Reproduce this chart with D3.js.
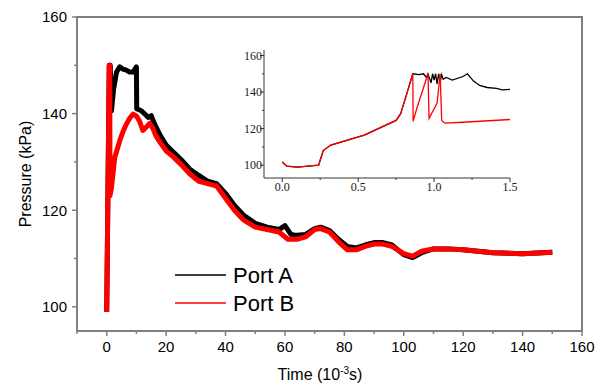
<!DOCTYPE html>
<html>
<head>
<meta charset="utf-8">
<script src="https://cdn.jsdelivr.net/npm/d3@7"></script>
<style>
  body { margin: 0; background: #fff; }
  svg { display: block; }
</style>
</head>
<body>
<div id="chart"></div>
<script>
// main chart data (time in 10^-3 s, pressure in kPa)
var timeA = [0, 0.86, 1.2, 1.6, 2.3, 3.3, 4.4, 5.5, 6.6, 7.7, 8.9, 10, 10.1, 11, 12, 13, 14, 15, 16, 18, 20, 22.5, 25, 28, 31, 34, 37, 40, 43, 46, 50, 54, 58, 60, 62, 64, 67, 70, 72, 75, 78, 81, 84, 87, 90, 93, 96, 100, 103, 106, 110, 115, 120, 130, 140, 150];
var portA = [99, 150, 150, 140.6, 145, 148.6, 149.7, 149.2, 149, 148.6, 148.6, 149.7, 141, 140.8, 140.4, 139.8, 139.2, 139.6, 138, 135.5, 133.5, 132, 130.5, 128.5, 127.2, 126, 125.5, 123.5, 121, 119, 117.3, 116.5, 116, 116.8, 115, 114.8, 115, 116.2, 116.5, 115.8, 114, 112.5, 112.2, 112.8, 113.3, 113.3, 112.8, 110.8, 110.2, 111.2, 112, 112, 111.8, 111.2, 111, 111.3];

var timeB = [0, 0.86, 0.87, 0.97, 0.98, 1.04, 1.1, 1.6, 2.7, 4.4, 5.5, 6.6, 7.7, 8.9, 10, 11, 12.2, 13, 14.5, 15.5, 16.5, 18, 20, 22.5, 25, 28, 31, 34, 37, 40, 43, 46, 50, 54, 58, 61, 64, 67, 70, 72, 75, 78, 81, 84, 87, 90, 93, 96, 100, 103, 106, 110, 115, 120, 130, 140, 150];
var portB = [99, 150, 124, 150, 125, 150, 123, 124.6, 130.9, 134.4, 136.3, 137.8, 139, 139.9, 139.5, 138.5, 136.5, 137, 138, 137, 135.5, 134, 132.3, 131, 129.5, 127.5, 126, 125.5, 125, 122.5, 120, 118, 116.5, 116, 115.5, 114, 114, 114.5, 116, 116.2, 115.5, 113.5, 111.8, 111.8, 112.5, 113, 113, 112.5, 111, 110.5, 111.5, 112, 112, 111.8, 111.2, 111, 111.3];

// inset data (0 - 1.5 x 10^-3 s)
var insetTimeA = [0, 0.03, 0.1, 0.24, 0.25, 0.27, 0.32, 0.54, 0.75, 0.78, 0.82, 0.86, 0.9, 0.93, 0.95, 0.96, 0.98, 0.99, 1.0, 1.01, 1.02, 1.03, 1.04, 1.05, 1.06, 1.08, 1.12, 1.19, 1.22, 1.26, 1.3, 1.35, 1.41, 1.45, 1.5];
var insetA = [101.8, 99.5, 99, 100, 102.7, 108, 111, 116.4, 124.5, 128.2, 139, 150, 149.5, 150, 148, 150, 145, 150, 146.5, 150, 144.5, 150, 145.5, 149.5, 147, 148, 146.5, 148.5, 150, 146, 143.6, 142.5, 142, 141.2, 141.5];
var insetTimeB = [0, 0.03, 0.1, 0.24, 0.25, 0.27, 0.32, 0.54, 0.75, 0.78, 0.82, 0.86, 0.862, 0.886, 0.96, 0.967, 1.02, 1.04, 1.05, 1.07, 1.19, 1.5];
var insetB = [101.8, 99.5, 99, 100, 102.7, 108, 111, 116.4, 124.5, 128.2, 139, 150, 124, 131, 150, 125.6, 134, 150, 124.5, 123, 123.5, 125];

var xTicks = [0, 20, 40, 60, 80, 100, 120, 140, 160];
var yTicks = [100, 120, 140, 160];
var insetXTicks = [0, 0.5, 1.0, 1.5];
var insetYTicks = [100, 120, 140, 160];
var seriesNames = ['Port A', 'Port B'];
var seriesColors = ['#000000', '#ff0000'];

var width = 605, height = 385;
var svg = d3.select('#chart').append('svg').attr('width', width).attr('height', height);

var x = d3.scaleLinear().domain([-10, 160]).range([77, 582]);
var y = d3.scaleLinear().domain([95, 160]).range([331, 17]);

var axisColor = '#808080';
var font = 'Liberation Sans, Arial, sans-serif';

// frame
svg.append('rect')
  .attr('x', 77).attr('y', 17)
  .attr('width', 582 - 77).attr('height', 331 - 17)
  .attr('fill', 'none').attr('stroke', axisColor).attr('stroke-width', 2);

// x ticks
var xMinor = d3.range(-10, 161, 10);
svg.append('g').selectAll('line').data(xMinor).enter().append('line')
  .attr('x1', d => x(d)).attr('x2', d => x(d))
  .attr('y1', 331).attr('y2', d => (d % 20 === 0 ? 336 : 334))
  .attr('stroke', axisColor).attr('stroke-width', 1.5);
svg.append('g').selectAll('text').data(xTicks).enter().append('text')
  .attr('x', d => x(d)).attr('y', 352)
  .attr('text-anchor', 'middle')
  .style('font-family', font).style('font-size', '15px').attr('fill', '#000')
  .text(d => d);

// y ticks
var yMinor = d3.range(100, 161, 10);
svg.append('g').selectAll('line').data(yMinor).enter().append('line')
  .attr('x1', 77).attr('x2', d => (d % 20 === 0 ? 72 : 74))
  .attr('y1', d => y(d)).attr('y2', d => y(d))
  .attr('stroke', axisColor).attr('stroke-width', 1.5);
svg.append('g').selectAll('text').data(yTicks).enter().append('text')
  .attr('x', 67).attr('y', d => y(d)).attr('dy', '0.36em')
  .attr('text-anchor', 'end')
  .style('font-family', font).style('font-size', '15px').attr('fill', '#000')
  .text(d => d);

// axis titles
var xt = svg.append('text')
  .attr('x', 320).attr('y', 380)
  .attr('text-anchor', 'middle')
  .style('font-family', font).style('font-size', '16px');
xt.append('tspan').text('Time (10');
xt.append('tspan').attr('dy', -6).style('font-size', '10px').text('-3');
xt.append('tspan').attr('dy', 6).text('s)');

svg.append('text')
  .attr('transform', 'translate(31,174) rotate(-90)')
  .attr('text-anchor', 'middle')
  .style('font-family', font).style('font-size', '16px')
  .text('Pressure (kPa)');

// main lines
var line = d3.line().x(d => x(d[0])).y(d => y(d[1]));
var dataA = timeA.map((t, i) => [t, portA[i]]);
var dataB = timeB.map((t, i) => [t, portB[i]]);
svg.append('path').datum(dataA)
  .attr('d', line).attr('fill', 'none')
  .attr('stroke', seriesColors[0]).attr('stroke-width', 5).attr('stroke-linejoin', 'round');
svg.append('path').datum(dataB)
  .attr('d', line).attr('fill', 'none')
  .attr('stroke', seriesColors[1]).attr('stroke-width', 5).attr('stroke-linejoin', 'round');

// legend
var legend = svg.append('g');
seriesNames.forEach(function (name, i) {
  var ly = 275 + i * 28;
  legend.append('line')
    .attr('x1', 175).attr('x2', 226).attr('y1', ly).attr('y2', ly)
    .attr('stroke', seriesColors[i]).attr('stroke-width', 1.5);
  legend.append('text')
    .attr('x', 233).attr('y', ly).attr('dy', '0.36em')
    .style('font-family', font).style('font-size', '22px')
    .text(name);
});

// inset
var ix = d3.scaleLinear().domain([-0.12, 1.5]).range([264, 510]);
var iy = d3.scaleLinear().domain([93, 163]).range([178, 50]);
var inset = svg.append('g');
var insetColor = '#333';
var serif = 'Liberation Serif, Times New Roman, serif';

inset.append('line').attr('x1', 264).attr('x2', 264).attr('y1', 50).attr('y2', 178)
  .attr('stroke', insetColor).attr('stroke-width', 1);
inset.append('line').attr('x1', 264).attr('x2', 510).attr('y1', 178).attr('y2', 178)
  .attr('stroke', insetColor).attr('stroke-width', 1);

inset.append('g').selectAll('line').data(d3.range(0, 1.51, 0.25)).enter().append('line')
  .attr('x1', d => ix(d)).attr('x2', d => ix(d))
  .attr('y1', 178).attr('y2', (d, i) => (i % 2 === 0 ? 182 : 180))
  .attr('stroke', insetColor);
inset.append('g').selectAll('text').data(insetXTicks).enter().append('text')
  .attr('x', d => ix(d)).attr('y', 191)
  .attr('text-anchor', 'middle')
  .style('font-family', serif).style('font-size', '12px').attr('fill', '#222')
  .text(d => d.toFixed(1));

inset.append('g').selectAll('line').data(d3.range(100, 161, 10)).enter().append('line')
  .attr('x1', 264).attr('x2', d => (d % 20 === 0 ? 260 : 262))
  .attr('y1', d => iy(d)).attr('y2', d => iy(d))
  .attr('stroke', insetColor);
inset.append('g').selectAll('text').data(insetYTicks).enter().append('text')
  .attr('x', 262).attr('y', d => iy(d)).attr('dy', '0.35em')
  .attr('text-anchor', 'end')
  .style('font-family', serif).style('font-size', '12px').attr('fill', '#222')
  .text(d => d);

var iline = d3.line().x(d => ix(d[0])).y(d => iy(d[1]));
inset.append('path').datum(insetTimeA.map((t, i) => [t, insetA[i]]))
  .attr('d', iline).attr('fill', 'none')
  .attr('stroke', seriesColors[0]).attr('stroke-width', 1.3);
inset.append('path').datum(insetTimeB.map((t, i) => [t, insetB[i]]))
  .attr('d', iline).attr('fill', 'none')
  .attr('stroke', seriesColors[1]).attr('stroke-width', 1.3);
</script>
</body>
</html>
